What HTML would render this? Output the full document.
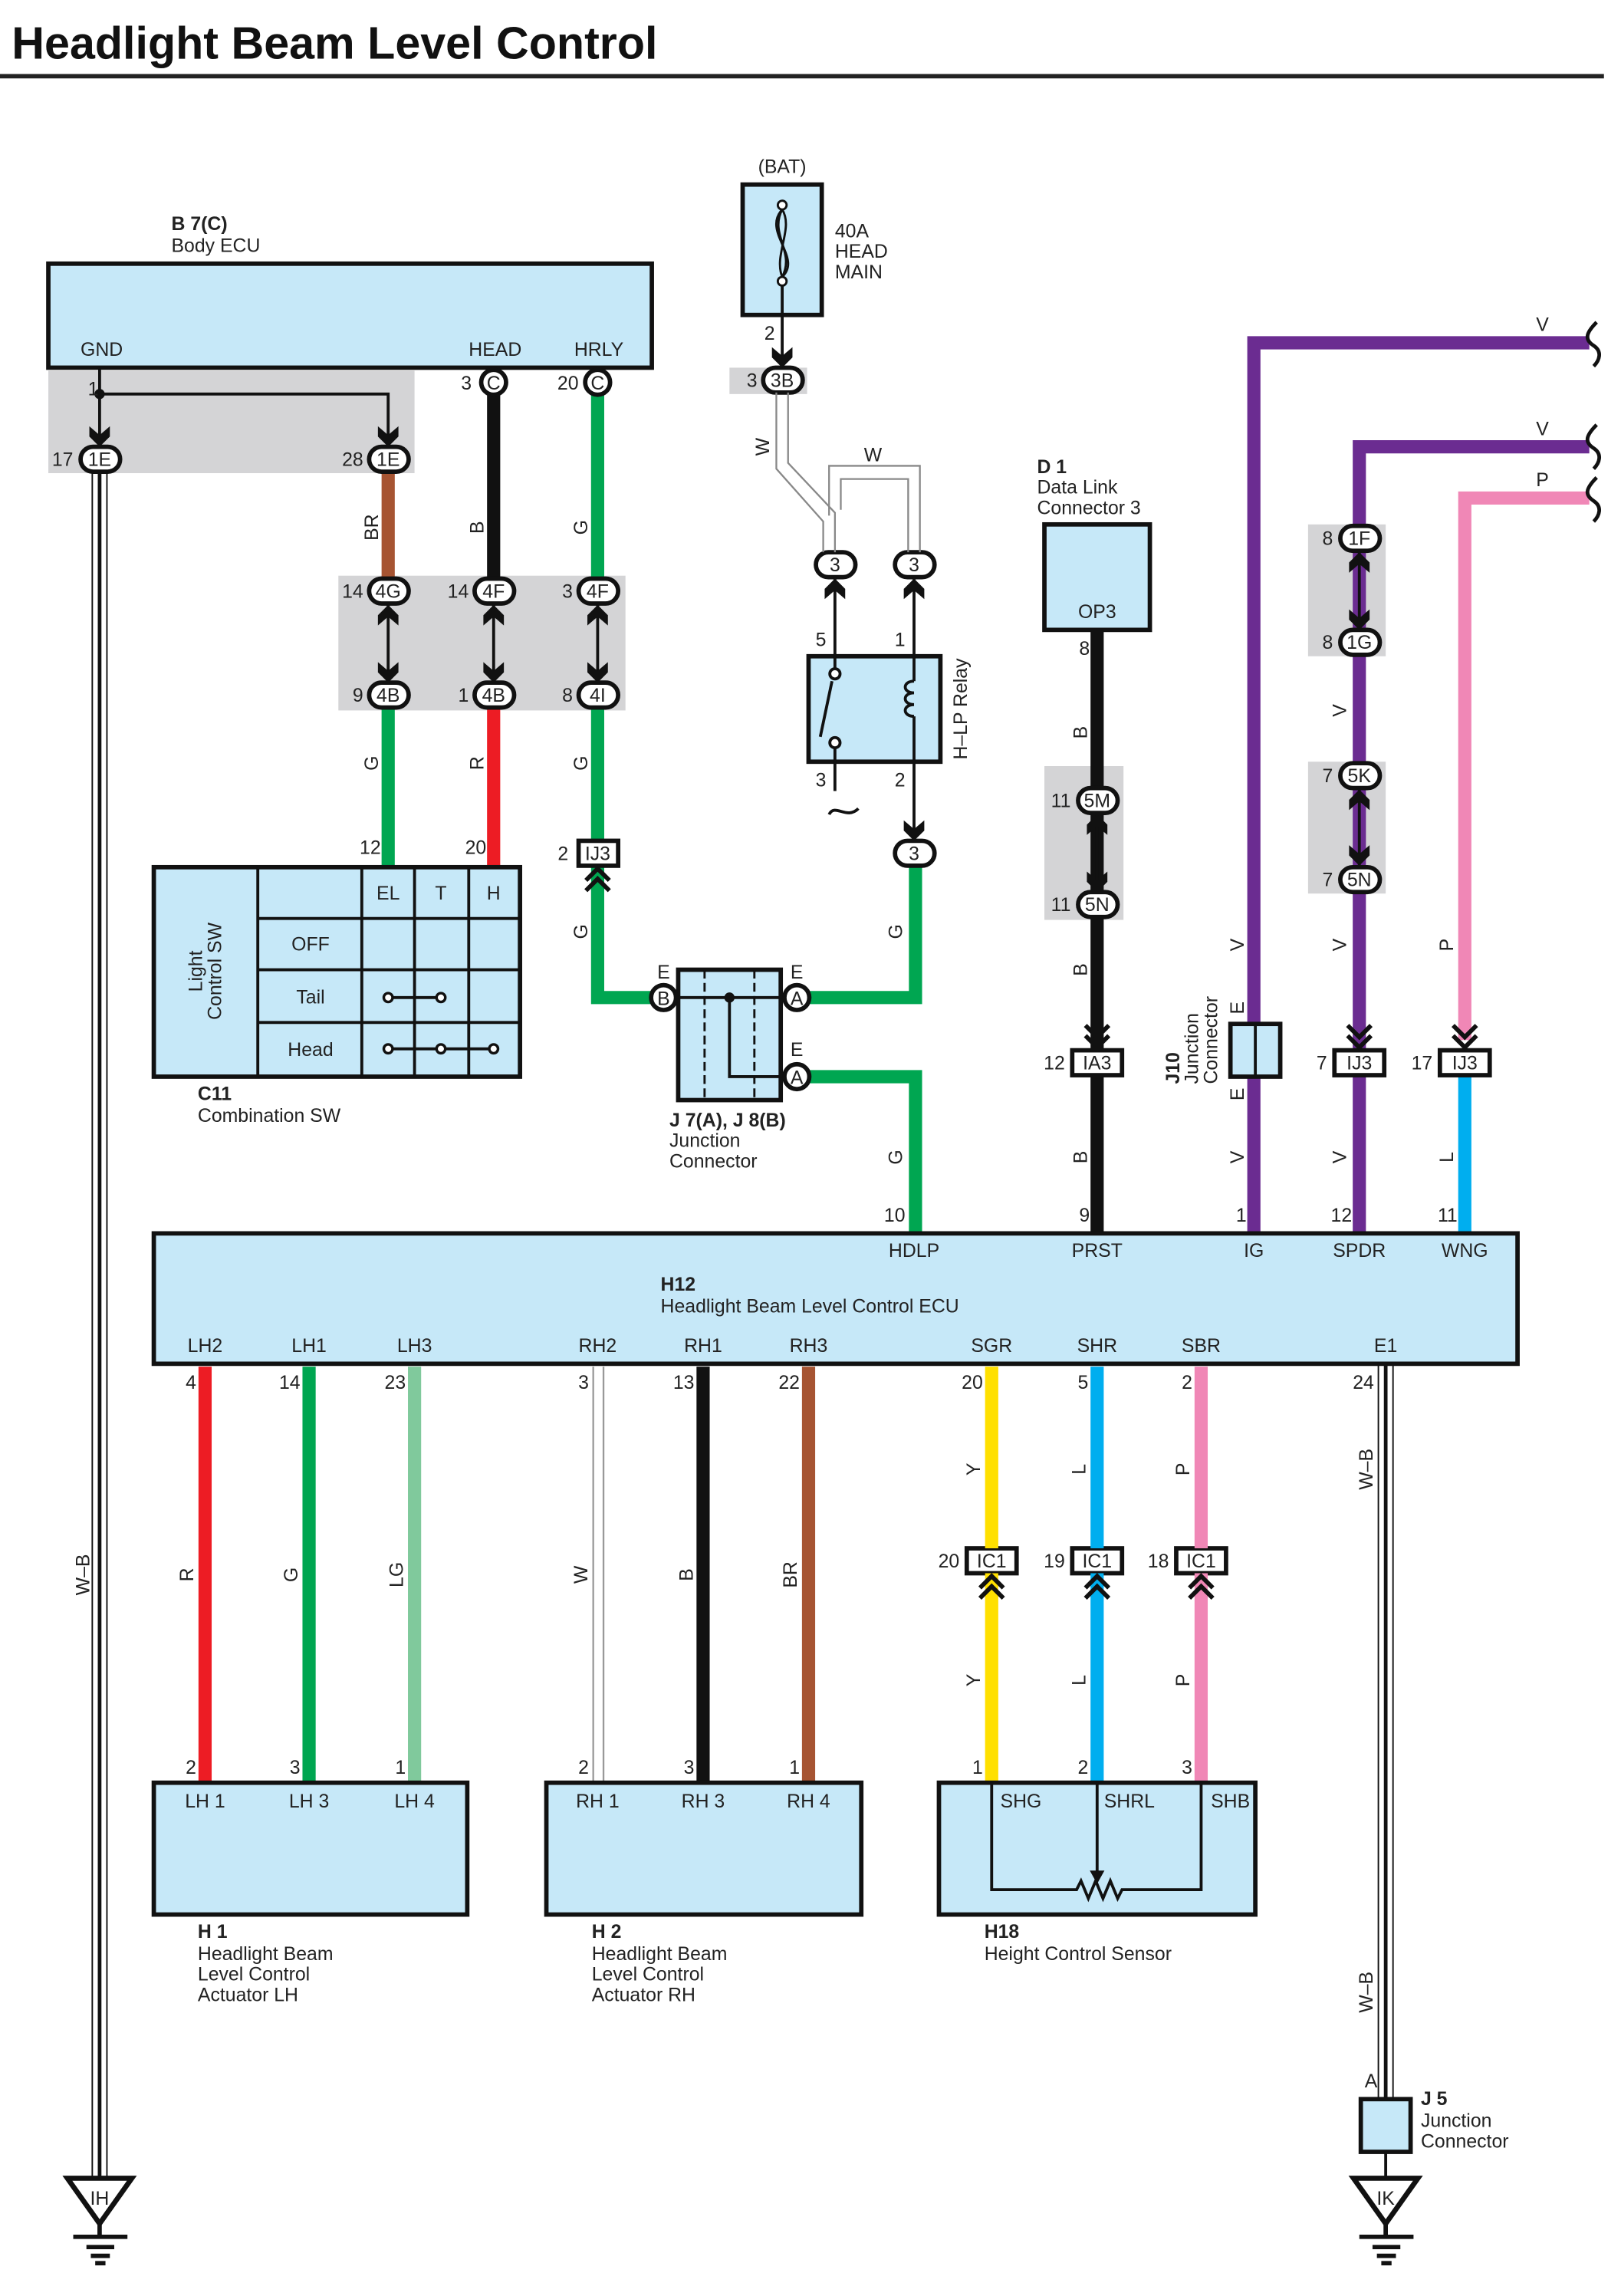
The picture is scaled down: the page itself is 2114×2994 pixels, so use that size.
<!DOCTYPE html>
<html><head><meta charset="utf-8"><style>
html,body{margin:0;padding:0;background:#fff}
svg{display:block}
text{font-family:"Liberation Sans",sans-serif;font-size:13px;fill:#222}
.b{font-weight:bold}
.m{text-anchor:middle}
.e{text-anchor:end}
</style></head><body>
<svg width="2114" height="2994" viewBox="0 0 1100 1558" preserveAspectRatio="none" xmlns="http://www.w3.org/2000/svg">
<defs>
<path id="dn" d="M-7,-13 L0,-7 L7,-13 L7,-6 L0,1 L-7,-6Z" fill="#111"/>
<path id="up" d="M-7,13 L0,7 L7,13 L7,6 L0,-1 L-7,6Z" fill="#111"/>
<g id="dd" fill="none" stroke="#111" stroke-width="3"><path d="M-8,-16 L0,-8 L8,-16"/><path d="M-8,-9 L0,-1 L8,-9"/></g>
<g id="du" fill="none" stroke="#111" stroke-width="3"><path d="M-8,16 L0,8 L8,16"/><path d="M-8,9 L0,1 L8,9"/></g>
</defs>
<rect width="1100" height="1558" fill="#fff"/>
<g transform="scale(0.994)">
<text x="8" y="40" class="b" style="font-size:31px;fill:#111">Headlight Beam Level Control</text>
<line x1="0" y1="52" x2="1095" y2="52" stroke="#222" stroke-width="3"/>

<!-- gray areas -->
<g fill="#d4d4d6">
<rect x="33" y="253" width="250" height="70"/>
<rect x="231" y="393" width="196" height="92"/>
<rect x="498" y="251" width="53" height="18"/>
<rect x="713" y="523" width="54" height="105"/>
<rect x="893" y="358" width="53" height="90"/>
<rect x="893" y="520" width="53" height="90"/>
</g>

<!-- Body ECU -->
<text x="117" y="157" class="b">B 7(C)</text>
<text x="117" y="172">Body ECU</text>
<rect x="33" y="180" width="412" height="71" fill="#c6e8f8" stroke="#111" stroke-width="3"/>
<text x="55" y="243">GND</text><text x="320" y="243">HEAD</text><text x="392" y="243">HRLY</text>

<!-- wires upper -->
<g fill="none" stroke-width="9">
<line x1="337" y1="268" x2="337" y2="395" stroke="#111"/>
<line x1="408" y1="268" x2="408" y2="395" stroke="#00a651"/>
<line x1="265" y1="320" x2="265" y2="395" stroke="#a65432"/>
<line x1="265" y1="482" x2="265" y2="592" stroke="#00a651"/>
<line x1="337" y1="482" x2="337" y2="592" stroke="#ed1c24"/>
<polyline points="408,482 408,574" stroke="#00a651"/>
<polyline points="408,592 408,681 452,681" stroke="#00a651"/>
<polyline points="553,681 625,681 625,590" stroke="#00a651"/>
<polyline points="553,735 625,735 625,842" stroke="#00a651"/>
<line x1="749" y1="430" x2="749" y2="842" stroke="#111"/>
<polyline points="856,842 856,234 1085,234" stroke="#6b2c91"/>
<polyline points="928,842 928,305 1085,305" stroke="#6b2c91"/>
<polyline points="1000,710 1000,340 1085,340" stroke="#f087b6"/>
<line x1="1000" y1="734" x2="1000" y2="842" stroke="#00aeef"/>
</g>
<g fill="none" stroke="#111" stroke-width="2.5">
<path d="M1090,220 C1082,228 1082,232 1088,236 C1094,240 1092,246 1088,250"/>
<path d="M1090,290 C1082,298 1082,302 1088,306 C1094,310 1092,316 1088,320"/>
<path d="M1090,326 C1082,334 1082,338 1088,342 C1094,346 1092,352 1088,356"/>
</g>
<text x="1053" y="226" class="m">V</text><text x="1053" y="297" class="m">V</text><text x="1053" y="332" class="m">P</text>

<g stroke="#111" stroke-width="2" fill="none">
<line x1="68" y1="251" x2="68" y2="300"/>
<polyline points="68,269 265,269 265,300"/>
<line x1="265" y1="412" x2="265" y2="466"/><line x1="337" y1="412" x2="337" y2="466"/><line x1="408" y1="412" x2="408" y2="466"/>
<line x1="928" y1="376" x2="928" y2="430"/><line x1="928" y1="538" x2="928" y2="591"/>
<line x1="749" y1="555" x2="749" y2="609"/>
</g>
<circle cx="68" cy="269" r="3.5" fill="#111"/>
<use href="#dn" x="68" y="304"/><use href="#dn" x="265" y="304"/>
<g><use href="#up" x="265" y="414"/><use href="#dn" x="265" y="465"/>
<use href="#up" x="337" y="414"/><use href="#dn" x="337" y="465"/>
<use href="#up" x="408" y="414"/><use href="#dn" x="408" y="465"/>
<use href="#up" x="928" y="378"/><use href="#dn" x="928" y="429"/>
<use href="#up" x="928" y="540"/><use href="#dn" x="928" y="590"/>
<use href="#up" x="749" y="557"/><use href="#dn" x="749" y="608"/></g>

<!-- W-B wires: white with black stripe -->
<g stroke="#111" fill="none">
<line x1="63" y1="322" x2="63" y2="1486" stroke-width="1"/><line x1="73" y1="322" x2="73" y2="1486" stroke-width="1"/>
<line x1="68" y1="322" x2="68" y2="1486" stroke-width="2.5"/>
<line x1="941" y1="931" x2="941" y2="1433" stroke-width="1"/><line x1="951" y1="931" x2="951" y2="1433" stroke-width="1"/>
<line x1="946" y1="931" x2="946" y2="1433" stroke-width="2.5"/>
<line x1="946" y1="1469" x2="946" y2="1486" stroke-width="2"/>
</g>

<!-- connectors -->
<g stroke="#111" stroke-width="3" fill="#fff">
<rect x="55" y="305" width="27" height="17" rx="8.5"/>
<rect x="252" y="305" width="27" height="17" rx="8.5"/>
<rect x="252" y="395" width="27" height="17" rx="8.5"/><rect x="324" y="395" width="27" height="17" rx="8.5"/><rect x="395" y="395" width="27" height="17" rx="8.5"/>
<rect x="252" y="466" width="27" height="17" rx="8.5"/><rect x="324" y="466" width="27" height="17" rx="8.5"/><rect x="395" y="466" width="27" height="17" rx="8.5"/>
<rect x="521" y="251" width="27" height="17" rx="8.5"/>
<rect x="557" y="377" width="27" height="17" rx="8.5"/><rect x="611" y="377" width="27" height="17" rx="8.5"/>
<rect x="611" y="574" width="27" height="17" rx="8.5"/>
<rect x="736" y="538" width="27" height="17" rx="8.5"/><rect x="736" y="609" width="27" height="17" rx="8.5"/>
<rect x="915" y="359" width="27" height="17" rx="8.5"/><rect x="915" y="430" width="27" height="17" rx="8.5"/>
<rect x="915" y="521" width="27" height="17" rx="8.5"/><rect x="915" y="592" width="27" height="17" rx="8.5"/>
<circle cx="337" cy="261" r="8.5"/><circle cx="408" cy="261" r="8.5"/>
<rect x="395" y="574" width="27" height="17"/>
<rect x="732" y="717" width="34" height="17"/><rect x="911" y="717" width="34" height="17"/><rect x="983" y="717" width="34" height="17"/>
<rect x="660" y="1057" width="34" height="17"/><rect x="732" y="1057" width="34" height="17"/><rect x="803" y="1057" width="34" height="17"/>
</g>
<g>
<text x="68" y="318" class="m">1E</text><text x="265" y="318" class="m">1E</text>
<text x="265" y="408" class="m">4G</text><text x="337" y="408" class="m">4F</text><text x="408" y="408" class="m">4F</text>
<text x="265" y="479" class="m">4B</text><text x="337" y="479" class="m">4B</text><text x="408" y="479" class="m">4I</text>
<text x="534" y="264" class="m">3B</text>
<text x="570" y="390" class="m">3</text><text x="624" y="390" class="m">3</text><text x="624" y="587" class="m">3</text>
<text x="749" y="551" class="m">5M</text><text x="749" y="622" class="m">5N</text>
<text x="928" y="372" class="m">1F</text><text x="928" y="443" class="m">1G</text><text x="928" y="534" class="m">5K</text><text x="928" y="605" class="m">5N</text>
<text x="337" y="266" class="m">C</text><text x="408" y="266" class="m">C</text>
<text x="408" y="587" class="m">IJ3</text>
<text x="749" y="730" class="m">IA3</text><text x="928" y="730" class="m">IJ3</text><text x="1000" y="730" class="m">IJ3</text>
<text x="677" y="1070" class="m">IC1</text><text x="749" y="1070" class="m">IC1</text><text x="820" y="1070" class="m">IC1</text>
</g>
<text x="60" y="270">1</text><text x="50" y="318" class="e">17</text><text x="248" y="318" class="e">28</text>
<text x="322" y="266" class="e">3</text><text x="395" y="266" class="e">20</text>
<text x="248" y="408" class="e">14</text><text x="320" y="408" class="e">14</text><text x="391" y="408" class="e">3</text>
<text x="248" y="479" class="e">9</text><text x="320" y="479" class="e">1</text><text x="391" y="479" class="e">8</text>
<text x="260" y="583" class="e">12</text><text x="332" y="583" class="e">20</text><text x="388" y="587" class="e">2</text>
<text x="517" y="264" class="e">3</text><text x="529" y="232" class="e">2</text>
<text x="564" y="441" class="e">5</text><text x="618" y="441" class="e">1</text><text x="564" y="537" class="e">3</text><text x="618" y="537" class="e">2</text>
<text x="744" y="447" class="e">8</text><text x="731" y="551" class="e">11</text><text x="731" y="622" class="e">11</text><text x="727" y="730" class="e">12</text>
<text x="910" y="372" class="e">8</text><text x="910" y="443" class="e">8</text><text x="910" y="534" class="e">7</text><text x="910" y="605" class="e">7</text>
<text x="906" y="730" class="e">7</text><text x="978" y="730" class="e">17</text>
<text x="618" y="834" class="e">10</text><text x="744" y="834" class="e">9</text><text x="851" y="834" class="e">1</text><text x="923" y="834" class="e">12</text><text x="995" y="834" class="e">11</text>

<use href="#du" x="408" y="592"/>
<use href="#dd" x="749" y="716"/><use href="#dd" x="928" y="716"/><use href="#dd" x="1000" y="716"/>

<g>
<text transform="translate(258,360) rotate(-90)" class="m">BR</text>
<text transform="translate(330,360) rotate(-90)" class="m">B</text>
<text transform="translate(401,360) rotate(-90)" class="m">G</text>
<text transform="translate(258,521) rotate(-90)" class="m">G</text>
<text transform="translate(330,521) rotate(-90)" class="m">R</text>
<text transform="translate(401,521) rotate(-90)" class="m">G</text>
<text transform="translate(401,636) rotate(-90)" class="m">G</text>
<text transform="translate(616,636) rotate(-90)" class="m">G</text>
<text transform="translate(616,790) rotate(-90)" class="m">G</text>
<text transform="translate(525,305) rotate(-90)" class="m">W</text>
<text transform="translate(742,500) rotate(-90)" class="m">B</text>
<text transform="translate(742,662) rotate(-90)" class="m">B</text>
<text transform="translate(742,790) rotate(-90)" class="m">B</text>
<text transform="translate(849,645) rotate(-90)" class="m">V</text>
<text transform="translate(849,790) rotate(-90)" class="m">V</text>
<text transform="translate(919,485) rotate(-90)" class="m">V</text>
<text transform="translate(919,645) rotate(-90)" class="m">V</text>
<text transform="translate(919,790) rotate(-90)" class="m">V</text>
<text transform="translate(992,645) rotate(-90)" class="m">P</text>
<text transform="translate(992,790) rotate(-90)" class="m">L</text>
<text transform="translate(61,1075) rotate(-90)" class="m">W–B</text>
<text transform="translate(937,1003) rotate(-90)" class="m">W–B</text>
<text transform="translate(937,1360) rotate(-90)" class="m">W–B</text>
<text transform="translate(660,484) rotate(-90)" class="m">H–LP Relay</text>
</g>
<text x="596" y="315" class="m">W</text>

<!-- Fuse -->
<text x="534" y="118" class="m">(BAT)</text>
<rect x="507" y="126" width="54" height="89" fill="#c6e8f8" stroke="#111" stroke-width="3"/>
<g fill="none" stroke="#111" stroke-width="1.5">
<path d="M534,143 C520,158 548,176 534,189"/>
<path d="M534,143 C525,160 543,172 534,189"/>
<path d="M534,143 C542,156 528,174 534,189"/>
</g>
<circle cx="534" cy="140" r="3" fill="#fff" stroke="#111" stroke-width="1.5"/>
<circle cx="534" cy="192" r="3" fill="#fff" stroke="#111" stroke-width="1.5"/>
<line x1="534" y1="195" x2="534" y2="245" stroke="#111" stroke-width="2"/>
<use href="#dn" x="534" y="250"/>
<text x="570" y="162">40A</text><text x="570" y="176">HEAD</text><text x="570" y="190">MAIN</text>
<g fill="none" stroke="#888" stroke-width="1.2">
<polyline points="530,268 530,320 562,356 562,377"/>
<polyline points="538,268 538,316 570,350 570,377"/>
<polyline points="566,352 566,318 628,318 628,377"/>
<polyline points="574,348 574,327 620,327 620,377"/>
</g>
<!-- Relay -->
<g stroke="#111" stroke-width="2" fill="none">
<line x1="570" y1="394" x2="570" y2="448"/><line x1="624" y1="394" x2="624" y2="448"/>
</g>
<use href="#up" x="570" y="396"/><use href="#up" x="624" y="396"/>
<rect x="552" y="448" width="90" height="72" fill="#c6e8f8" stroke="#111" stroke-width="3"/>
<g stroke="#111" stroke-width="2" fill="none">
<line x1="570" y1="448" x2="570" y2="456"/>
<line x1="568" y1="465" x2="560" y2="503"/>
<line x1="570" y1="510" x2="570" y2="540"/>
<path d="M566,556 C570,548 578,560 586,552"/>
<line x1="624" y1="448" x2="624" y2="465"/>
<path d="M624,465 c-8,0 -8,8 0,8 c-8,0 -8,8 0,8 c-8,0 -8,8 0,8"/>
<line x1="624" y1="489" x2="624" y2="566"/>
</g>
<circle cx="570" cy="460" r="3.5" fill="#fff" stroke="#111" stroke-width="2"/>
<circle cx="570" cy="507" r="3.5" fill="#fff" stroke="#111" stroke-width="2"/>
<use href="#dn" x="624" y="573"/>

<!-- D1 -->
<text x="708" y="323" class="b">D 1</text><text x="708" y="337">Data Link</text><text x="708" y="351">Connector 3</text>
<rect x="713" y="358" width="72" height="72" fill="#c6e8f8" stroke="#111" stroke-width="3"/>
<text x="749" y="422" class="m">OP3</text>

<!-- J10 -->
<rect x="840" y="699" width="34" height="36" fill="#c6e8f8" stroke="#111" stroke-width="3"/>
<line x1="857" y1="699" x2="857" y2="735" stroke="#111" stroke-width="2"/>
<text transform="translate(849,688) rotate(-90)" class="m">E</text>
<text transform="translate(849,747) rotate(-90)" class="m">E</text>
<text transform="translate(805,740) rotate(-90)" class="b">J10</text>
<text transform="translate(818,740) rotate(-90)">Junction</text>
<text transform="translate(831,740) rotate(-90)">Connector</text>

<!-- Combination SW -->
<rect x="105" y="592" width="250" height="143" fill="#c6e8f8" stroke="#111" stroke-width="3"/>
<g stroke="#111" stroke-width="2">
<line x1="176" y1="592" x2="176" y2="735"/><line x1="247" y1="592" x2="247" y2="735"/>
<line x1="283" y1="592" x2="283" y2="735"/><line x1="320" y1="592" x2="320" y2="735"/>
<line x1="176" y1="627" x2="355" y2="627"/><line x1="176" y1="662" x2="355" y2="662"/><line x1="176" y1="698" x2="355" y2="698"/>
<line x1="265" y1="681" x2="301" y2="681"/><line x1="265" y1="716" x2="337" y2="716"/>
</g>
<g fill="#fff" stroke="#111" stroke-width="1.8">
<circle cx="265" cy="681" r="3"/><circle cx="301" cy="681" r="3"/>
<circle cx="265" cy="716" r="3"/><circle cx="301" cy="716" r="3"/><circle cx="337" cy="716" r="3"/>
</g>
<text x="265" y="614" class="m">EL</text><text x="301" y="614" class="m">T</text><text x="337" y="614" class="m">H</text>
<text x="212" y="649" class="m">OFF</text><text x="212" y="685" class="m">Tail</text><text x="212" y="721" class="m">Head</text>
<text transform="translate(138,663) rotate(-90)" class="m">Light</text>
<text transform="translate(151,663) rotate(-90)" class="m">Control SW</text>
<text x="135" y="751" class="b">C11</text><text x="135" y="766">Combination SW</text>

<!-- J7/J8 -->
<rect x="463" y="662" width="70" height="89" fill="#c6e8f8" stroke="#111" stroke-width="3"/>
<g stroke="#111" stroke-width="1.5" stroke-dasharray="6,3"><line x1="481" y1="662" x2="481" y2="751"/><line x1="515" y1="662" x2="515" y2="751"/></g>
<g stroke="#111" stroke-width="2" fill="none"><line x1="453" y1="681" x2="544" y2="681"/><polyline points="498,681 498,735 544,735"/></g>
<circle cx="498" cy="681" r="3.5" fill="#111"/>
<g fill="#fff" stroke="#111" stroke-width="3"><circle cx="453" cy="681" r="8.5"/><circle cx="544" cy="681" r="8.5"/><circle cx="544" cy="735" r="8.5"/></g>
<text x="453" y="686" class="m">B</text><text x="544" y="686" class="m">A</text><text x="544" y="740" class="m">A</text>
<text x="453" y="668" class="m">E</text><text x="544" y="668" class="m">E</text><text x="544" y="721" class="m">E</text>
<text x="457" y="769" class="b">J 7(A), J 8(B)</text><text x="457" y="783">Junction</text><text x="457" y="797">Connector</text>

<!-- H12 -->
<rect x="105" y="842" width="931" height="89" fill="#c6e8f8" stroke="#111" stroke-width="3"/>
<text x="624" y="858" class="m">HDLP</text><text x="749" y="858" class="m">PRST</text><text x="856" y="858" class="m">IG</text><text x="928" y="858" class="m">SPDR</text><text x="1000" y="858" class="m">WNG</text>
<text x="140" y="923" class="m">LH2</text><text x="211" y="923" class="m">LH1</text><text x="283" y="923" class="m">LH3</text>
<text x="408" y="923" class="m">RH2</text><text x="480" y="923" class="m">RH1</text><text x="552" y="923" class="m">RH3</text>
<text x="677" y="923" class="m">SGR</text><text x="749" y="923" class="m">SHR</text><text x="820" y="923" class="m">SBR</text><text x="946" y="923" class="m">E1</text>
<text x="451" y="881" class="b">H12</text><text x="451" y="896">Headlight Beam Level Control ECU</text>

<!-- lower wires -->
<g stroke-width="9">
<line x1="140" y1="933" x2="140" y2="1217" stroke="#ed1c24"/>
<line x1="211" y1="933" x2="211" y2="1217" stroke="#00a651"/>
<line x1="283" y1="933" x2="283" y2="1217" stroke="#80c99c"/>
<line x1="480" y1="933" x2="480" y2="1217" stroke="#111"/>
<line x1="552" y1="933" x2="552" y2="1217" stroke="#a65432"/>
<line x1="677" y1="933" x2="677" y2="1057" stroke="#ffe000"/><line x1="677" y1="1074" x2="677" y2="1217" stroke="#ffe000"/>
<line x1="749" y1="933" x2="749" y2="1057" stroke="#00aeef"/><line x1="749" y1="1074" x2="749" y2="1217" stroke="#00aeef"/>
<line x1="820" y1="933" x2="820" y2="1057" stroke="#f087b6"/><line x1="820" y1="1074" x2="820" y2="1217" stroke="#f087b6"/>
</g>
<g stroke="#999" stroke-width="1.2"><line x1="405" y1="933" x2="405" y2="1217"/><line x1="412" y1="933" x2="412" y2="1217"/></g>
<use href="#du" x="677" y="1075"/><use href="#du" x="749" y="1075"/><use href="#du" x="820" y="1075"/>
<text x="134" y="948" class="e">4</text><text x="205" y="948" class="e">14</text><text x="277" y="948" class="e">23</text>
<text x="402" y="948" class="e">3</text><text x="474" y="948" class="e">13</text><text x="546" y="948" class="e">22</text>
<text x="671" y="948" class="e">20</text><text x="743" y="948" class="e">5</text><text x="814" y="948" class="e">2</text><text x="938" y="948" class="e">24</text>
<text x="655" y="1070" class="e">20</text><text x="727" y="1070" class="e">19</text><text x="798" y="1070" class="e">18</text>
<text x="134" y="1211" class="e">2</text><text x="205" y="1211" class="e">3</text><text x="277" y="1211" class="e">1</text>
<text x="402" y="1211" class="e">2</text><text x="474" y="1211" class="e">3</text><text x="546" y="1211" class="e">1</text>
<text x="671" y="1211" class="e">1</text><text x="743" y="1211" class="e">2</text><text x="814" y="1211" class="e">3</text>
<g>
<text transform="translate(132,1075) rotate(-90)" class="m">R</text>
<text transform="translate(203,1075) rotate(-90)" class="m">G</text>
<text transform="translate(275,1075) rotate(-90)" class="m">LG</text>
<text transform="translate(401,1075) rotate(-90)" class="m">W</text>
<text transform="translate(473,1075) rotate(-90)" class="m">B</text>
<text transform="translate(544,1075) rotate(-90)" class="m">BR</text>
<text transform="translate(669,1003) rotate(-90)" class="m">Y</text>
<text transform="translate(741,1003) rotate(-90)" class="m">L</text>
<text transform="translate(812,1003) rotate(-90)" class="m">P</text>
<text transform="translate(669,1147) rotate(-90)" class="m">Y</text>
<text transform="translate(741,1147) rotate(-90)" class="m">L</text>
<text transform="translate(812,1147) rotate(-90)" class="m">P</text>
</g>

<!-- bottom boxes -->
<g fill="#c6e8f8" stroke="#111" stroke-width="3">
<rect x="105" y="1217" width="214" height="90"/><rect x="373" y="1217" width="215" height="90"/><rect x="641" y="1217" width="216" height="90"/>
</g>
<text x="140" y="1234" class="m">LH 1</text><text x="211" y="1234" class="m">LH 3</text><text x="283" y="1234" class="m">LH 4</text>
<text x="408" y="1234" class="m">RH 1</text><text x="480" y="1234" class="m">RH 3</text><text x="552" y="1234" class="m">RH 4</text>
<text x="697" y="1234" class="m">SHG</text><text x="771" y="1234" class="m">SHRL</text><text x="840" y="1234" class="m">SHB</text>
<g stroke="#111" stroke-width="2" fill="none">
<polyline points="677,1217 677,1290 735,1290 738,1284 743,1296 748,1284 753,1296 758,1284 763,1296 766,1290 820,1290 820,1217"/>
<line x1="749" y1="1217" x2="749" y2="1280"/>
</g>
<path d="M744,1277 L754,1277 L749,1286Z" fill="#111"/>
<text x="135" y="1323" class="b">H 1</text><text x="135" y="1338">Headlight Beam</text><text x="135" y="1352">Level Control</text><text x="135" y="1366">Actuator LH</text>
<text x="404" y="1323" class="b">H 2</text><text x="404" y="1338">Headlight Beam</text><text x="404" y="1352">Level Control</text><text x="404" y="1366">Actuator RH</text>
<text x="672" y="1323" class="b">H18</text><text x="672" y="1338">Height Control Sensor</text>

<!-- J5 -->
<text x="936" y="1425" class="m">A</text>
<rect x="929" y="1433" width="34" height="36" fill="#c6e8f8" stroke="#111" stroke-width="3"/>
<text x="970" y="1437" class="b">J 5</text><text x="970" y="1452">Junction</text><text x="970" y="1466">Connector</text>

<!-- grounds -->
<g stroke="#111" stroke-width="3.5" fill="#fff" stroke-linejoin="miter">
<path d="M46,1487 L90,1487 L68,1518Z"/><path d="M924,1487 L968,1487 L946,1518Z"/>
</g>
<g stroke="#111" stroke-width="3">
<line x1="68" y1="1518" x2="68" y2="1527"/><line x1="946" y1="1518" x2="946" y2="1527"/>
<line x1="50" y1="1527" x2="87" y2="1527"/><line x1="59" y1="1534" x2="78" y2="1534"/><line x1="62" y1="1540" x2="75" y2="1540"/><line x1="65" y1="1545" x2="72" y2="1545"/>
<line x1="928" y1="1527" x2="965" y2="1527"/><line x1="937" y1="1534" x2="956" y2="1534"/><line x1="940" y1="1540" x2="953" y2="1540"/><line x1="943" y1="1545" x2="950" y2="1545"/>
</g>
<text x="68" y="1505" class="m">IH</text><text x="946" y="1505" class="m">IK</text>
</g>
</svg>
</body></html>
